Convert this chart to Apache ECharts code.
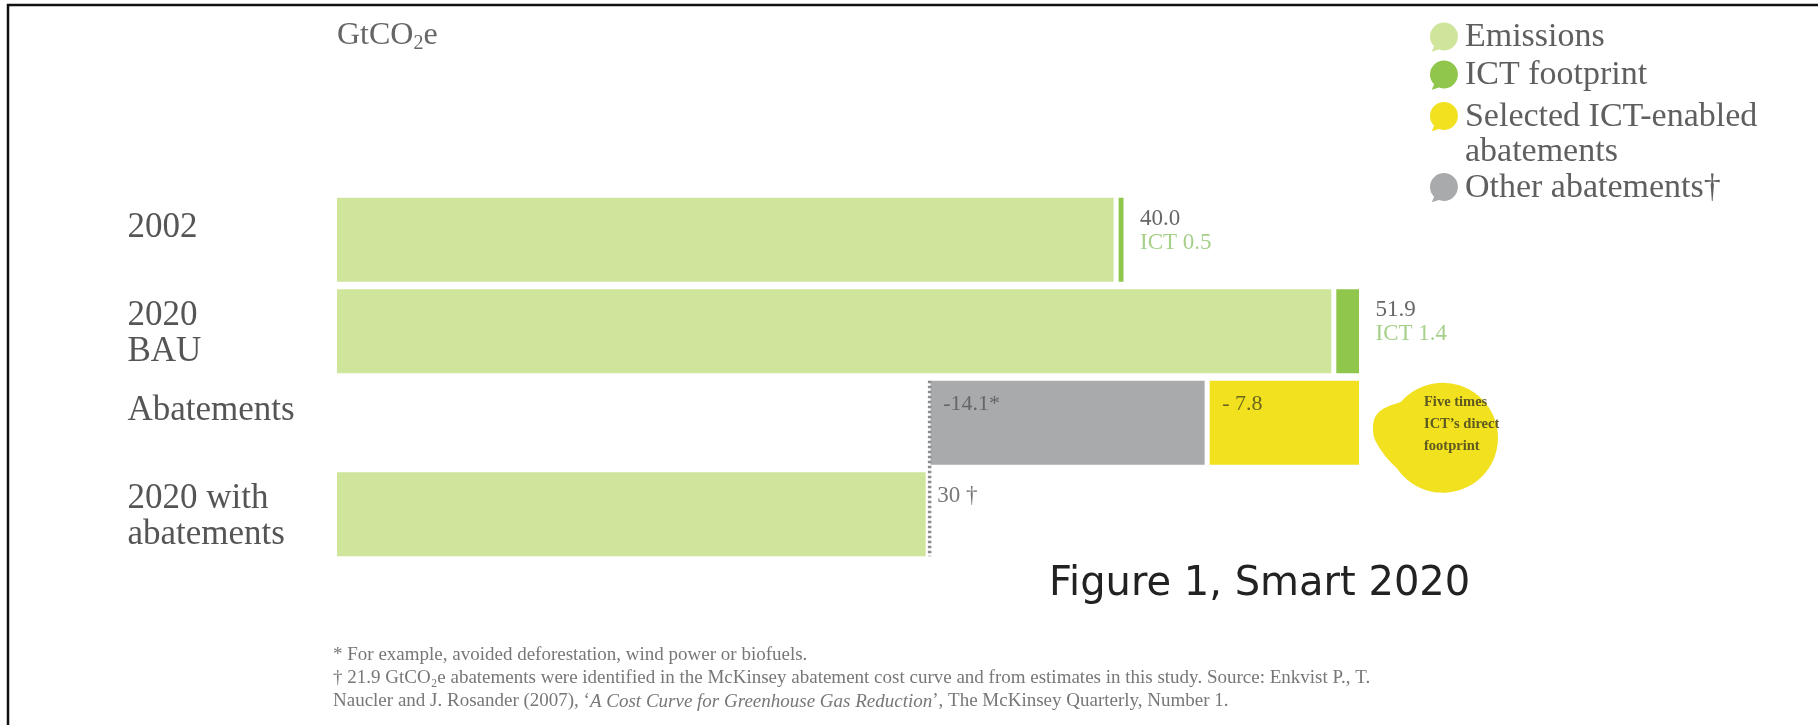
<!DOCTYPE html>
<html><head><meta charset="utf-8">
<script src="https://cdn.jsdelivr.net/npm/echarts@6/dist/echarts.min.js"></script>
<style>html,body{margin:0;padding:0;background:#fff}#c{width:1818px;height:725px}</style>
</head><body><div id="c"></div>
<script>
// ---- data ----
const categories = ['2002', '2020\nBAU', 'Abatements', '2020 with\nabatements'];
const emissions = [39.5, 50.5, null, 30];
const ictFootprint = [0.5, 1.4, null, null];
const otherAbatements = [null, null, 14.1, null];
const selectedAbatements = [null, null, 7.8, null];
const totals = [40.0, 51.9, null, 30];
const emissionMarks = ['', '', '', '†'];
const seriesNames = ['Emissions', 'ICT footprint', 'Selected ICT-enabled abatements', 'Other abatements†'];
const bubbleText = ['Five times', 'ICT\u2019s direct', 'footprint'];
const unitLabel = 'GtCO{s|2}e';
const figureTitle = 'Figure 1, Smart 2020';
const footnotes = [
  '* For example, avoided deforestation, wind power or biofuels.',
  '\u2020 21.9 GtCO\u2082e abatements were identified in the McKinsey abatement cost curve and from estimates in this study. Source: Enkvist P., T.',
  'Naucler and J. Rosander (2007), \u2018{i|A Cost Curve for Greenhouse Gas Reduction}\u2019, The McKinsey Quarterly, Number 1.'
];

// offset where the abatement bars start (BAU total minus all abatements)
const bauIndex = 1, abIndex = 2, withIndex = 3;
const abatementBase = categories.map((c, i) =>
  otherAbatements[i] != null ? +(totals[bauIndex] - otherAbatements[i] - selectedAbatements[i]).toFixed(1) : null);

// ---- styles ----
const C = {
  emis: '#cfe59b', ict: '#8fc64b', sel: '#f2e11e', other: '#a9aaac',
  text: '#555', light: '#a6d08a'
};
const SERIF = 'Liberation Serif';
const BAR_W = 89, BORDER = 2.5;
const bubblePath = 'path://M6,25 A15,15 0 1,1 12,29 L3,32 Z';
const speechPath = 'path://M28,19.5 A55,55 0 1,1 24,85 C16,78 8,68 3,58 C0,52 0,42 2,36 C5,28 14,23 28,19.5 Z';

const barBase = {
  type: 'bar', stack: 'total', barWidth: BAR_W,
  emphasis: { disabled: true }
};
const legendBase = {
  orient: 'vertical', left: 1428, padding: 0, itemGap: 0,
  itemWidth: 32, itemHeight: 32, icon: bubblePath, selectedMode: false
};
const legendText = { fontFamily: SERIF, fontSize: 34, color: '#5f5f5f' };

const chart = echarts.init(document.getElementById('c'), null, { renderer: 'canvas' });
chart.setOption({
  animation: false,
  backgroundColor: '#fff',
  title: [
    {
      text: unitLabel, left: 337, top: 18, padding: 0,
      textStyle: {
        fontFamily: SERIF, fontSize: 32, fontWeight: 'normal', color: '#666', lineHeight: 36,
        rich: { s: { fontFamily: SERIF, fontSize: 20, lineHeight: 20, verticalAlign: 'bottom', color: '#666' } }
      }
    },
    {
      text: figureTitle, left: 1049, top: 565, padding: 0,
      textStyle: { fontFamily: 'DejaVu Sans', fontSize: 40, fontWeight: 'normal', color: '#222' }
    }
  ],
  legend: [
    Object.assign({}, legendBase, {
      data: [seriesNames[0], seriesNames[1]], top: 18.5,
      textStyle: Object.assign({ lineHeight: 38 }, legendText)
    }),
    Object.assign({}, legendBase, {
      data: [seriesNames[2]], top: 64.5,
      formatter: () => ' \nSelected ICT-enabled\nabatements',
      textStyle: Object.assign({ lineHeight: 35 }, legendText)
    }),
    Object.assign({}, legendBase, {
      data: [seriesNames[3]], top: 170.5,
      textStyle: Object.assign({ lineHeight: 35 }, legendText)
    })
  ],
  grid: { left: 334.5, top: 194, width: 60 * 19.788, height: 366, containLabel: false },
  xAxis: { type: 'value', min: 0, max: 60, show: false },
  yAxis: {
    type: 'category', data: categories, inverse: true,
    axisLine: { show: false }, axisTick: { show: false }, splitLine: { show: false },
    axisLabel: {
      align: 'left', margin: 207, color: C.text,
      formatter: v => v.indexOf('\n') >= 0
        ? '{p| }\n' + v.split('\n').map(s => '{a|' + s + '}').join('\n')
        : '{a|' + v + '}\n{g| }',
      rich: {
        a: { fontFamily: SERIF, fontSize: 35, color: C.text, lineHeight: 36 },
        g: { fontFamily: SERIF, fontSize: 10, lineHeight: 24 },
        p: { fontFamily: SERIF, fontSize: 4, lineHeight: 6 }
      }
    }
  },
  tooltip: { show: false },
  series: [
    Object.assign({}, barBase, {
      name: seriesNames[0], data: emissions,
      itemStyle: { color: C.emis, borderColor: '#fff', borderWidth: BORDER },
      label: {
        show: true, position: 'right', distance: 9, offset: [0, -18],
        fontFamily: SERIF, fontSize: 23, color: '#777',
        formatter: p => emissionMarks[p.dataIndex] ? String(p.value) + ' ' + emissionMarks[p.dataIndex] : ''
      }
    }),
    Object.assign({}, barBase, {
      name: seriesNames[1], data: ictFootprint,
      itemStyle: { color: C.ict, borderColor: '#fff', borderWidth: BORDER },
      label: {
        show: true, position: 'right', distance: 14, offset: [0, -9],
        formatter: p => '{v|' + totals[p.dataIndex].toFixed(1) + '}\n{i|ICT ' + ictFootprint[p.dataIndex] + '}',
        rich: {
          v: { fontFamily: SERIF, fontSize: 23, color: '#666', lineHeight: 24 },
          i: { fontFamily: SERIF, fontSize: 23, color: C.light, lineHeight: 24 }
        }
      }
    }),
    Object.assign({}, barBase, {
      name: 'offset', data: abatementBase, silent: true,
      itemStyle: { color: 'rgba(0,0,0,0)', borderWidth: 0 }
    }),
    Object.assign({}, barBase, {
      name: seriesNames[3], data: otherAbatements,
      itemStyle: { color: C.other, borderColor: '#fff', borderWidth: BORDER },
      label: {
        show: true, position: 'insideTopLeft', distance: 15,
        fontFamily: SERIF, fontSize: 22, color: '#666',
        formatter: p => '-' + p.value + '*'
      }
    }),
    Object.assign({}, barBase, {
      name: seriesNames[2], data: selectedAbatements,
      itemStyle: { color: C.sel, borderColor: '#fff', borderWidth: BORDER },
      label: {
        show: true, position: 'insideTopLeft', distance: 15,
        fontFamily: SERIF, fontSize: 22, color: '#6b671e',
        formatter: p => '- ' + p.value
      },
      markPoint: {
        silent: true,
        symbol: speechPath, symbolSize: [125, 110], symbolOffset: [74, 15],
        itemStyle: { color: C.sel, borderWidth: 0 },
        label: {
          show: true, position: [51, 8],
          formatter: bubbleText.join('\n'),
          fontFamily: SERIF, fontSize: 14.5, fontWeight: 'bold', lineHeight: 22, color: '#5e5920'
        },
        data: [{ coord: [totals[bauIndex], abIndex] }]
      }
    }),
    {
      type: 'custom', silent: true, z: 5,
      encode: { x: 0, y: 1 },
      data: [[abatementBase[abIndex], abIndex, withIndex]],
      renderItem: (params, api) => {
        const p1 = api.coord([api.value(0), api.value(1)]);
        const p2 = api.coord([api.value(0), api.value(2)]);
        const half = BAR_W / 2 - BORDER;
        return {
          type: 'line',
          shape: { x1: p1[0] + 1.5, y1: p1[1] - half, x2: p2[0] + 1.5, y2: p2[1] + half },
          style: { stroke: '#8c8c8c', lineWidth: 3.5, lineDash: [2.5, 2.5] }
        };
      }
    }
  ],
  graphic: [
    { type: 'line', silent: true, shape: { x1: 7, y1: 5, x2: 1818, y2: 5 }, style: { stroke: '#111', lineWidth: 2.5 } },
    { type: 'line', silent: true, shape: { x1: 8, y1: 4, x2: 8, y2: 725 }, style: { stroke: '#111', lineWidth: 2.5 } },
    {
      type: 'text', left: 333, top: 644, silent: true,
      style: {
        text: footnotes.join('\n'),
        fontFamily: SERIF, fontSize: 19, lineHeight: 23, fill: '#777',
        rich: { i: { fontFamily: SERIF, fontSize: 19, fontStyle: 'italic', lineHeight: 23, fill: '#777' } }
      }
    }
  ]
});
</script></body></html>
